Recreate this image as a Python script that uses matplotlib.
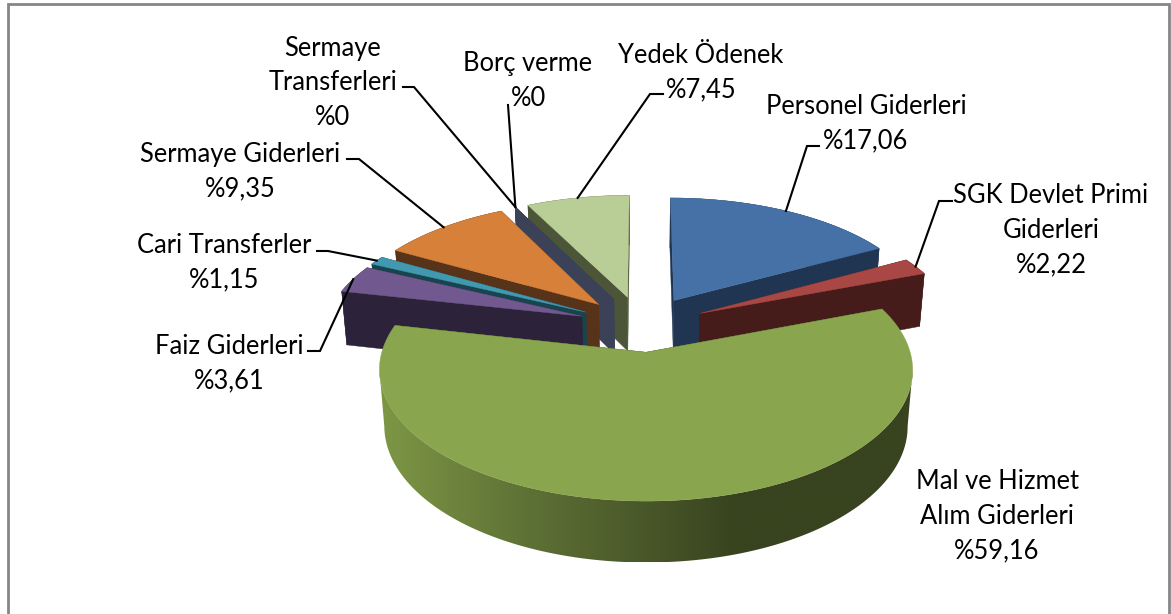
import numpy as np
import matplotlib
matplotlib.use("Agg")
import matplotlib.pyplot as plt
from matplotlib.colors import to_rgb
from matplotlib.patches import Polygon


# chart data, clockwise from 12 o'clock
names = ["Personel Giderleri", "SGK Devlet Primi\nGiderleri", "Mal ve Hizmet\nAlım Giderleri",
         "Faiz Giderleri", "Cari Transferler", "Sermaye Giderleri",
         "Sermaye\nTransferleri", "Borç verme", "Yedek Ödenek"]
values = [17.06, 2.22, 59.16, 3.61, 1.15, 9.35, 0, 0, 7.45]

# styles, same order as values
top_colors = ["#4571a6", "#a84744", "#89a54e", "#71588f", "#4198af", "#d68039",
              "#3b4258", "#3b4258", "#b9cd96"]
wall_colors = ["#1f3552", "#451c1a", "#38431f", "#2c2239", "#18444f", "#57331a",
               "#3b4258", "#3b4258", "#4d5539"]
explode = [0.25, 0.25, 0.21, 0.25, 0.25, 0.25, 0.25, 0.25, 0.25]
draw_order = [0, 1, 8, 6, 7, 5, 4, 3, 2]
green_index = 2

# label centres in pixels
label_xy = [(866, 124), (1051, 230), (997, 516), (229, 364), (224, 263), (240, 172),
            (333, 83), (528, 81), (701, 73)]
# leader line: label end and elbow in pixels
leader_xy = [[(819, 146), (807, 146)], [(952, 201), (939, 201)], None,
             [(308, 351), (320, 351)], [(317, 251), (328, 251)], [(347, 159), (359, 159)],
             [(403, 87), (414, 87)], [(508, 105)], [(663, 94), (650, 94)]]

# camera fitted to the picture
CX, CY = 642, 326
SCALE_X, SCALE_Y, DEPTH = 257, 122, 56
PERSPECTIVE, BOTTOM_SHRINK = 0.13, 0.018
FONT_SIZE = 18.4


def project(x, y, z=0.0):
    w = 1 + PERSPECTIVE * y + BOTTOM_SHRINK * z
    return CX + SCALE_X * x / w, CY + (-SCALE_Y * y + DEPTH * z) / w


def green_gradient(x0, x1):
    stops = ["#7d9645", "#5c6f34", "#38431f", "#38431f"]
    rgb = np.array([to_rgb(c) for c in stops])
    xp = [383, 537, 737, 915]
    xs = np.linspace(x0, x1, 512)
    return np.stack([np.interp(xs, xp, rgb[:, i]) for i in range(3)], axis=-1)[None, :, :]


def draw_slice(ax, start, end, offset, top, wall, shaded=False):
    mid = (start + end) / 2
    ox, oy = offset * np.sin(mid), offset * np.cos(mid)
    n = max(2, int(np.degrees(end - start)))
    th = np.linspace(start, end, n + 1)
    rim_x, rim_y = ox + np.sin(th), oy + np.cos(th)

    # radial walls
    for t in (start, end):
        ex, ey = ox + np.sin(t), oy + np.cos(t)
        quad = [project(ox, oy), project(ex, ey), project(ex, ey, 1), project(ox, oy, 1)]
        ax.add_patch(Polygon(quad, facecolor=wall, edgecolor=wall, lw=0.3))

    # outer wall
    upper = [project(a, b) for a, b in zip(rim_x, rim_y)]
    lower = [project(a, b, 1) for a, b in zip(rim_x, rim_y)]
    if shaded:
        # only the part facing the camera, so the clip outline does not cross itself
        px = [p[0] for p in upper]
        i0, i1 = int(np.argmax(px)), int(np.argmin(px))
        outline = upper[i0:i1 + 1] + lower[i0:i1 + 1][::-1]
        patch = Polygon(outline, facecolor="none", edgecolor="none")
        ax.add_patch(patch)
        xs = [p[0] for p in outline]
        ys = [p[1] for p in outline]
        im = ax.imshow(green_gradient(min(xs), max(xs)), aspect="auto",
                       extent=(min(xs), max(xs), max(ys), min(ys)), interpolation="bilinear")
        im.set_clip_path(patch)
    else:
        ax.add_patch(Polygon(upper + lower[::-1], facecolor=wall, edgecolor=wall, lw=0.3))

    # top face
    if end > start:
        pts = [project(ox, oy)] + upper
        ax.add_patch(Polygon(pts, facecolor=top, edgecolor=top, lw=0.3, zorder=3 if shaded else 1))


fig = plt.figure(figsize=(11.71, 6.14), dpi=100)
ax = fig.add_axes([0, 0, 1, 1])
ax.axis("off")

# chart frame, open at the bottom
ax.plot([8, 8, 1169, 1169], [614, 3.5, 3.5, 614], color="#868686", lw=2, solid_joinstyle="miter")

edges = np.concatenate([[0], np.cumsum(values)]) / sum(values) * 2 * np.pi

for i in draw_order:
    draw_slice(ax, edges[i], edges[i + 1], explode[i], top_colors[i], wall_colors[i],
               shaded=i == green_index)

for i, name in enumerate(names):
    text = name + "\n%" + f"{values[i]:g}".replace(".", ",")
    ax.text(label_xy[i][0], label_xy[i][1], text, ha="center", va="center", ma="center",
            family="Lato", fontsize=FONT_SIZE, color="black", linespacing=1.476, zorder=5)
    if leader_xy[i] is None:
        continue
    # leader ends on the rim of its slice
    mid = (edges[i] + edges[i + 1]) / 2
    tip = project((1 + explode[i]) * np.sin(mid), (1 + explode[i]) * np.cos(mid))
    path = leader_xy[i] + [tip]
    ax.plot([p[0] for p in path], [p[1] for p in path], color="black", lw=1.5,
            solid_joinstyle="miter", zorder=4)

ax.set_xlim(0, 1171)
ax.set_ylim(614, 0)
fig.savefig("out.png", dpi=100, facecolor="white")
